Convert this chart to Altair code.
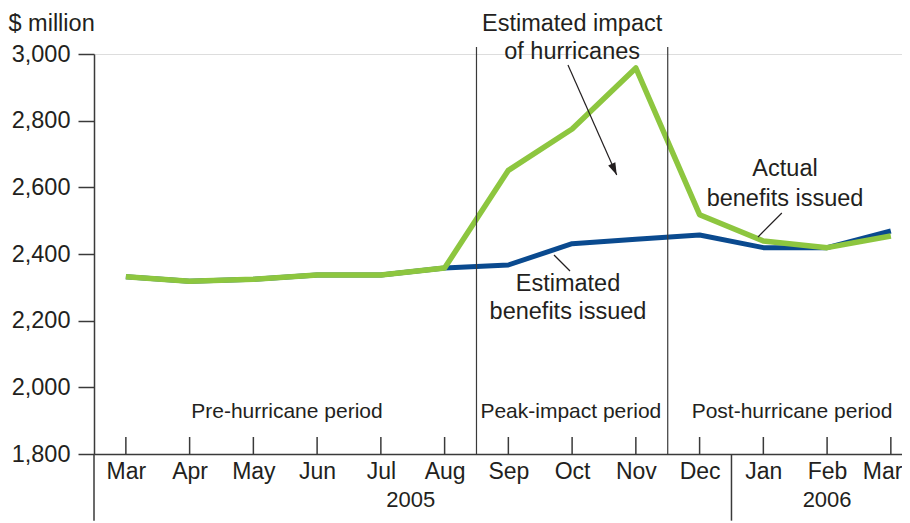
import json
import altair as alt
import pandas as pd

# ---- data ----
months = ["Mar", "Apr", "May", "Jun", "Jul", "Aug", "Sep", "Oct", "Nov", "Dec", "Jan", "Feb", "Mar"]
estimated = [2332, 2318, 2324, 2337, 2337, 2358, 2367, 2431, 2444, 2457, 2419, 2419, 2469]
actual = [2332, 2318, 2324, 2337, 2337, 2358, 2651, 2775, 2958, 2518, 2439, 2419, 2454]
y_ticks = [1800, 2000, 2200, 2400, 2600, 2800, 3000]

period_bounds = [5.5, 8.5]          # Aug/Sep and Nov/Dec
year_bound = 9.5                     # Dec/Jan

ann_text = ["Estimated impact", "of hurricanes", "Actual", "benefits issued",
            "Estimated", "benefits issued"]
ann_x = [7.0, 7.0, 10.34, 10.34, 6.935, 6.935]
ann_y = [3090, 3006, 2655, 2565, 2310, 2226]

period_text = ["Pre-hurricane period", "Peak-impact period", "Post-hurricane period"]
period_x = [2.527, 6.98, 10.45]
period_y = [1926, 1926, 1926]

year_text = ["2005", "2006"]
year_x = [4.47, 11.0]
year_y = [1662, 1662]

# leader lines: x, y, x2, y2
lead_x = [6.935, 10.29, 6.967]
lead_y = [2967, 2523, 2349]
lead_x2 = [7.70, 9.916, 6.716]
lead_y2 = [2637, 2451, 2397]

FONT = "Liberation Sans"
TXT = "#231f20"
AX = "#3a3a3a"
GREEN = "#8dc63f"
BLUE = "#0a4a8f"

n = len(months)
idx = list(range(n))
df = pd.DataFrame({
    "i": idx * 2,
    "v": estimated + actual,
    "s": ["Estimated"] * n + ["Actual"] * n,
})

xs = alt.Scale(domain=[-0.5, 12.175], nice=False, zero=False)
ys = alt.Scale(domain=[1800, 3000], nice=False, zero=False)

label_expr = json.dumps(months) + "[datum.value]"
last = n - 1

x_axis = alt.Axis(values=idx, labelExpr=label_expr, tickSize=0, labelFontSize=23,
                  labelFont=FONT, labelColor=TXT, labelPadding=6, domainColor=AX,
                  domainWidth=1.5, grid=False, title=None, labelFlush=False,
                  labelAlign=alt.ConditionalAxisLabelAlign(
                      condition={"test": f"datum.value == {last}", "value": "right"},
                      value="center"),
                  labelOffset=alt.ConditionalAxisNumber(
                      condition={"test": f"datum.value == {last}", "value": 11},
                      value=0))
y_axis = alt.Axis(values=y_ticks, format=",d", tickSize=16, tickColor=AX, tickWidth=1.5,
                  labelFontSize=23.5, labelFont=FONT, labelColor=TXT, labelPadding=8,
                  domainColor=AX, domainWidth=1.5, grid=False,
                  title="$ million", titleAngle=0, titleAlign="left", titleBaseline="alphabetic",
                  titleX=-86, titleY=-24, titleFontSize=23.5, titleFont=FONT,
                  titleColor=TXT, titleFontWeight="normal")

base = alt.Chart(df)

est_line = base.transform_filter(alt.datum.s == "Estimated").mark_line(
    color=BLUE, strokeWidth=5, strokeJoin="round").encode(
    x=alt.X("i:Q", scale=xs, axis=x_axis),
    y=alt.Y("v:Q", scale=ys, axis=y_axis),
)
act_line = base.transform_filter(alt.datum.s == "Actual").mark_line(
    color=GREEN, strokeWidth=5.5, strokeJoin="round").encode(
    x=alt.X("i:Q", scale=xs),
    y=alt.Y("v:Q", scale=ys),
)

# x-axis ticks pointing up (inside)
tick_df = pd.DataFrame({"i": idx, "y0": [1800] * n, "y1": [1851] * n})
ticks = alt.Chart(tick_df).mark_rule(color=AX, strokeWidth=1.5).encode(
    x=alt.X("i:Q", scale=xs), y=alt.Y("y0:Q", scale=ys), y2="y1:Q")

# period boundary lines
pb_df = pd.DataFrame({"i": period_bounds, "y0": [1800, 1800], "y1": [3021, 3021]})
pbl = alt.Chart(pb_df).mark_rule(color=AX, strokeWidth=1.2).encode(
    x=alt.X("i:Q", scale=xs), y=alt.Y("y0:Q", scale=ys), y2="y1:Q")

# lines below axis: y-axis extension and year separator
sep_df = pd.DataFrame({"i": [-0.5, year_bound], "y0": [1800, 1800], "y1": [1600, 1600]})
sep = alt.Chart(sep_df).mark_rule(color=AX, strokeWidth=1.5, clip=False).encode(
    x=alt.X("i:Q", scale=xs), y=alt.Y("y0:Q", scale=ys), y2="y1:Q")

# leader lines
lead_df = pd.DataFrame({"x": lead_x, "y": lead_y, "x2": lead_x2, "y2": lead_y2})
leads = alt.Chart(lead_df).mark_rule(color=TXT, strokeWidth=1.2).encode(
    x=alt.X("x:Q", scale=xs), y=alt.Y("y:Q", scale=ys), x2="x2:Q", y2="y2:Q")

# arrow head (tip at the end of the first leader line)
head_df = pd.DataFrame({"x": [lead_x2[0]], "y": [lead_y2[0]]})
head = alt.Chart(head_df).mark_point(shape="M0,0L-0.32,-1L0.32,-1Z", filled=True,
                                     color=TXT, size=600, angle=336, opacity=1,
                                     strokeWidth=0).encode(
    x=alt.X("x:Q", scale=xs), y=alt.Y("y:Q", scale=ys))

ann_df = pd.DataFrame({"t": ann_text, "x": ann_x, "y": ann_y})
ann = alt.Chart(ann_df).mark_text(font=FONT, fontSize=23.5, color=TXT, align="center",
                                  baseline="middle").encode(
    x=alt.X("x:Q", scale=xs), y=alt.Y("y:Q", scale=ys), text="t:N")

per_df = pd.DataFrame({"t": period_text, "x": period_x, "y": period_y})
per = alt.Chart(per_df).mark_text(font=FONT, fontSize=21, color=TXT, align="center",
                                  baseline="middle").encode(
    x=alt.X("x:Q", scale=xs), y=alt.Y("y:Q", scale=ys), text="t:N")

yr_df = pd.DataFrame({"t": year_text, "x": year_x, "y": year_y})
yr = alt.Chart(yr_df).mark_text(font=FONT, fontSize=22, color=TXT, align="center",
                                baseline="middle").encode(
    x=alt.X("x:Q", scale=xs), y=alt.Y("y:Q", scale=ys), text="t:N")

chart = alt.layer(est_line, act_line, ticks, pbl, sep, leads, head, ann, per, yr).properties(
    width=808, height=400,
    autosize=alt.AutoSizeParams(type="none"),
    padding={"left": 86, "top": 46, "right": 0, "bottom": 69},
).configure_view(stroke=None).configure(background="white")

chart.save("out.html", embed_options={"renderer": "svg", "actions": False})
